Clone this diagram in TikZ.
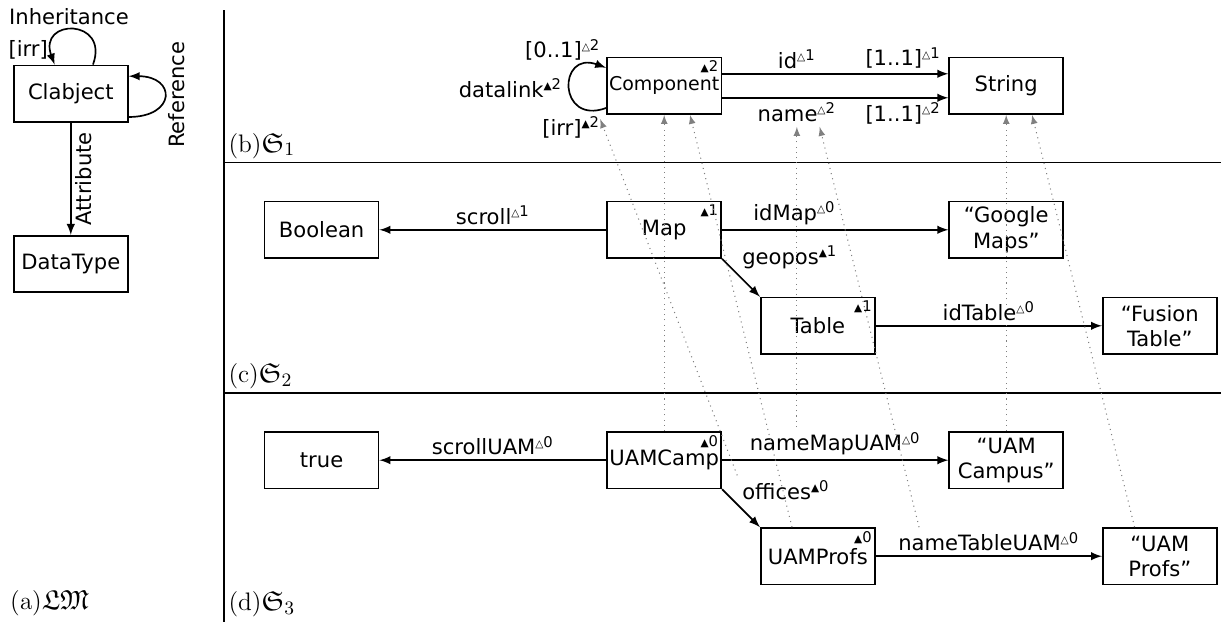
\documentclass[tikz,border=0pt]{standalone}
\usepackage[no-math]{fontspec}
\setmainfont{DejaVu Sans}
\usepackage{amssymb}
\newcommand{\pot}[1]{\textsuperscript{{\tiny △}#1}}
\newcommand{\lvl}[1]{\textsuperscript{{\tiny ▲}#1}}
\newcommand{\boxlvl}[1]{{\tiny ▲}{\scriptsize #1}}
\begin{document}
\begin{tikzpicture}[>=latex, thick,
  box/.style={draw, minimum width=1.9cm, minimum height=0.94cm, align=center, inner sep=1pt},
  levelmark/.style={anchor=north east, inner sep=1.5pt},
  elabel/.style={inner sep=2pt},
  caption/.style={anchor=south west, inner sep=1pt, font=\fontsize{13pt}{15pt}\selectfont},
  typing/.style={->, line width=0.5pt, dotted, draw=gray}]
  \useasboundingbox (0,0) rectangle (20.35,-10.43);

  % Metamodelo linguistico
  \node[box] (Clabject) at (1.18,-1.56) {Clabject};
  \node[box] (DataType) at (1.18,-4.40) {DataType};
  \draw[->] ([xshift=0.37cm]Clabject.north) to[out=70,in=110,looseness=3.3] ([xshift=-0.27cm]Clabject.north);
  \node (Inheritance) at (1.15,-0.28) {Inheritance};
  \node (InheritanceIrr) at (0.47,-0.83) {[irr]};
  \draw[->] ([yshift=-0.39cm]Clabject.east) to[out=0,in=0,looseness=3] ([yshift=0.29cm]Clabject.east);
  \node[rotate=90] (Reference) at (2.95,-1.58) {Reference};
  \draw[->] (Clabject) -- node[rotate=90, anchor=north, elabel] (Attribute) {Attribute} (DataType);

  \node[caption] (CapA) at (0.12,-10.32) {$(\mathrm{a})\mathfrak{LM}$};

  % Separadores
  \draw (3.73,-0.17) -- (3.73,-10.37);
  \draw (3.73,-2.71) -- (20.35,-2.71);
  \draw (3.73,-6.55) -- (20.35,-6.55);

  % Nivel 1
  \node[box, font=\small, label={[levelmark]north east:\boxlvl{2}}] (Component) at (11.07,-1.43) {Component};
  \node[box] (String) at (16.77,-1.43) {String};
  \draw[->] ([yshift=0.2cm]Component.east) -- node[above, pos=0.33, elabel] (Id) {id\pot{1}}
    node[above, pos=0.8, elabel] (IdMult) {[1..1]\pot{1}} ([yshift=0.2cm]String.west);
  \draw[->] ([yshift=-0.2cm]Component.east) -- node[below, pos=0.33, elabel] (Name) {name\pot{2}}
    node[below, pos=0.8, elabel] (NameMult) {[1..1]\pot{2}} ([yshift=-0.2cm]String.west);
  \draw[->] ([yshift=-0.37cm]Component.west) to[out=200,in=160,looseness=3.3] ([yshift=0.3cm]Component.west);
  \node[anchor=east] (Datalink) at (9.5,-1.47) {datalink\lvl{2}};
  \node (DatalinkMult) at (9.38,-0.83) {[0..1]\pot{2}};
  \node (DatalinkIrr) at (9.52,-2.12) {[irr]\lvl{2}};

  \node[caption] (CapB) at (3.76,-2.69) {$(\mathrm{b})\mathfrak{S}_1$};

  % Nivel 2
  \node[box] (Boolean) at (5.36,-3.83) {Boolean};
  \node[box, label={[levelmark]north east:\boxlvl{1}}] (Map) at (11.07,-3.83) {Map};
  \node[box] (GoogleMaps) at (16.77,-3.83) {“Google\\Maps”};
  \node[box, label={[levelmark]north east:\boxlvl{1}}] (Table) at (13.63,-5.43) {Table};
  \node[box] (FusionTable) at (19.33,-5.43) {“Fusion\\Table”};
  \draw[->] (Map) -- node[above, elabel] (Scroll) {scroll\pot{1}} (Boolean);
  \draw[->] (Map) -- node[above, pos=0.32, elabel] (IdMap) {idMap\pot{0}} (GoogleMaps);
  \draw[->] (Map.south east) -- node[pos=0.4, anchor=south west, elabel] (Geopos) {geopos\lvl{1}} (Table.north west);
  \draw[->] (Table) -- node[above, elabel] (IdTable) {idTable\pot{0}} (FusionTable);

  \node[caption] (CapC) at (3.76,-6.53) {$(\mathrm{c})\mathfrak{S}_2$};

  % Nivel 3
  \node[box] (True) at (5.36,-7.67) {true};
  \node[box, label={[levelmark]north east:\boxlvl{0}}] (UAMCamp) at (11.07,-7.67) {UAMCamp};
  \node[box] (UAMCampus) at (16.77,-7.67) {“UAM\\Campus”};
  \node[box, label={[levelmark]north east:\boxlvl{0}}] (UAMProfs) at (13.63,-9.27) {UAMProfs};
  \node[box] (UAMProfsStr) at (19.33,-9.27) {“UAM\\Profs”};
  \draw[->] (UAMCamp) -- node[above, elabel] (ScrollUAM) {scrollUAM\pot{0}} (True);
  \draw[->] (UAMCamp) -- node[above, elabel] (NameMapUAM) {nameMapUAM\pot{0}} (UAMCampus);
  \draw[->] (UAMCamp.south east) -- node[pos=0.4, anchor=south west, elabel] (Offices) {offices\lvl{0}} (UAMProfs.north west);
  \draw[->] (UAMProfs) -- node[above, elabel] (NameTableUAM) {nameTableUAM\pot{0}} (UAMProfsStr);

  \node[caption] (CapD) at (3.76,-10.33) {$(\mathrm{d})\mathfrak{S}_3$};

  % Tipado
  \draw[typing] (UAMCamp.north) -- (Component.south);
  \draw[typing] ([xshift=-0.43cm]UAMProfs.north) -- ([xshift=0.43cm]Component.south);
  \draw[typing] (Offices.north west) -- ([xshift=-0.1cm,yshift=-0.07cm]Component.south west);
  \draw[typing] (NameMapUAM.north -| Name.south) -- (Name.south);
  \draw[typing] ([xshift=0.43cm]NameTableUAM.north west) -- ([xshift=0.38cm]Name.south);
  \draw[typing] (UAMCampus.north) -- (String.south);
  \draw[typing] ([xshift=-0.42cm]UAMProfsStr.north) -- ([xshift=0.43cm]String.south);
\end{tikzpicture}
\end{document}
